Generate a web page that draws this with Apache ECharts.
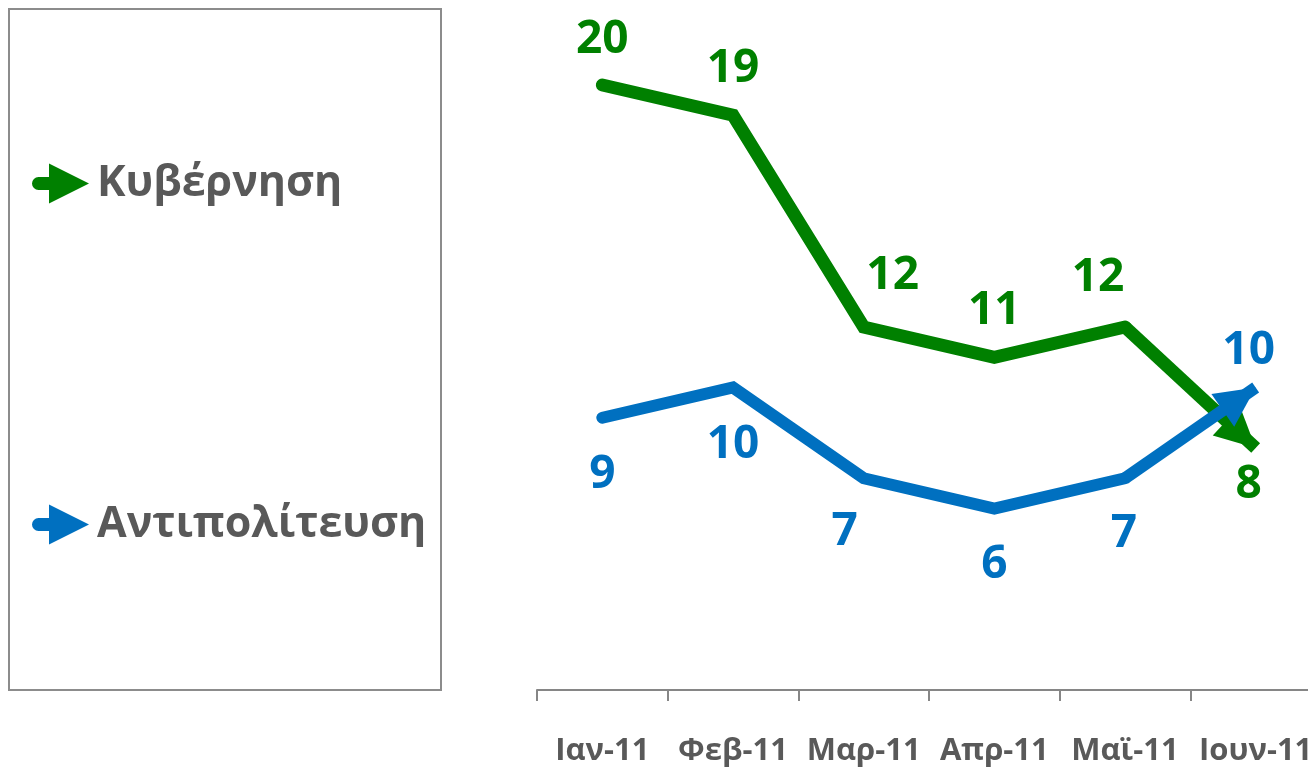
<!DOCTYPE html>
<html lang="el">
  <head>
    <meta charset="utf-8" />
    <title>Κυβέρνηση - Αντιπολίτευση</title>
    <style>
      * {
        margin: 0;
        padding: 0;
      }

      #chart-container {
        position: relative;
        width: 1308px;
        height: 768px;
        overflow: hidden;
        background: #fff;
      }
    </style>
  </head>

  <body>
    <div id="chart-container"></div>
    <script src="https://cdn.jsdelivr.net/npm/echarts@6/dist/echarts.min.js"></script>
    <script>
      var months = ["Ιαν-11", "Φεβ-11", "Μαρ-11", "Απρ-11", "Μαϊ-11", "Ιουν-11"];
      var govt = [20, 19, 12, 11, 12, 8];
      var opp = [9, 10, 7, 6, 7, 10];

      // label nudges per point: [dx, distance]
      var govtLbl = [[0, 22], [0, 23], [29, 28], [0, 23], [-27, 26], [-7, 14]];
      var oppLbl = [[0, 34], [0, 34], [-19, 31], [0, 33], [-1, 33], [-7, 14]];

      var GREEN = "#008000";
      var BLUE = "#0070C0";
      var GREY = "#595959";
      var FONT = "Open Sans";

      // legend icon: rounded stub + triangle head
      var arrowIcon =
        "path://M6.5,13.5 L17,13.5 L17,0 L57,20 L17,40 L17,26.5 L6.5,26.5 A6.5,6.5 0 0 1 6.5,13.5 Z";

      var dom = document.getElementById("chart-container");
      var myChart = echarts.init(dom, null, { renderer: "canvas" });

      // all points but the last get the plain line, the last segment is an arrow
      function lineData(vals, lbl, pos) {
        var out = vals.slice(0, vals.length - 1).map(function (v, i) {
          return {
            value: v,
            label: { position: pos, distance: lbl[i][1], offset: [lbl[i][0], 0] },
          };
        });
        out.push("-");
        return out;
      }

      function makeSeries(name, vals, lbl, color, width, pos, lastPos) {
        var n = vals.length;
        return {
          name: name,
          type: "line",
          symbol: "circle",
          symbolSize: 0,
          showSymbol: true,
          data: lineData(vals, lbl, pos),
          lineStyle: { color: color, width: width, cap: "round", join: "miter" },
          itemStyle: { color: color },
          label: {
            show: true,
            color: color,
            fontFamily: FONT,
            fontWeight: "bold",
            fontSize: 46,
          },
          markLine: {
            silent: true,
            symbol: ["none", "triangle"],
            symbolSize: [40, 40],
            symbolOffset: [[0, 0], [0, 20]],
            label: { show: false },
            lineStyle: { color: color, width: width, type: "solid", cap: "butt" },
            emphasis: { disabled: true },
            data: [
              [
                { coord: [n - 2, vals[n - 2]] },
                { coord: [n - 1, vals[n - 1]] },
              ],
            ],
          },
          markPoint: {
            silent: true,
            symbol: "circle",
            symbolSize: 0,
            label: {
              show: true,
              position: lastPos,
              distance: lbl[n - 1][1],
              offset: [lbl[n - 1][0], 0],
              color: color,
              fontFamily: FONT,
              fontWeight: "bold",
              fontSize: 46,
              formatter: "{c}",
            },
            data: [{ coord: [n - 1, vals[n - 1]], value: vals[n - 1] }],
          },
        };
      }

      var option = {
        animation: false,
        graphic: [
          {
            type: "rect",
            shape: { x: 9, y: 9, width: 432, height: 681 },
            style: { fill: "none", stroke: "#8c8c8c", lineWidth: 2 },
          },
        ],
        legend: {
          orient: "vertical",
          left: 27,
          top: 157,
          itemWidth: 57,
          itemHeight: 40,
          itemGap: 298,
          icon: arrowIcon,
          selectedMode: false,
          textStyle: {
            color: GREY,
            fontFamily: FONT,
            fontWeight: "bold",
            fontSize: 43,
            padding: [0, 0, 0, 3],
          },
          data: [
            { name: "Κυβέρνηση", itemStyle: { color: GREEN } },
            { name: "Αντιπολίτευση", itemStyle: { color: BLUE } },
          ],
        },
        grid: {
          left: 537,
          right: -13,
          top: 24.5,
          bottom: 78,
          outerBoundsMode: "none",
        },
        xAxis: {
          type: "category",
          data: months,
          boundaryGap: true,
          axisLine: { lineStyle: { color: "#868686", width: 2 } },
          axisTick: { show: true, length: 11, lineStyle: { color: "#868686", width: 2 } },
          axisLabel: {
            interval: 0,
            hideOverlap: false,
            margin: 46,
            color: GREY,
            fontFamily: FONT,
            fontWeight: "bold",
            fontSize: 31,
          },
        },
        yAxis: {
          type: "value",
          min: 0,
          max: 22,
          show: false,
          splitLine: { show: false },
        },
        series: [
          makeSeries("Κυβέρνηση", govt, govtLbl, GREEN, 13, "top", "bottom"),
          makeSeries("Αντιπολίτευση", opp, oppLbl, BLUE, 12, "bottom", "top"),
        ],
      };

      myChart.setOption(option);
      window.addEventListener("resize", myChart.resize);
    </script>
  </body>
</html>
